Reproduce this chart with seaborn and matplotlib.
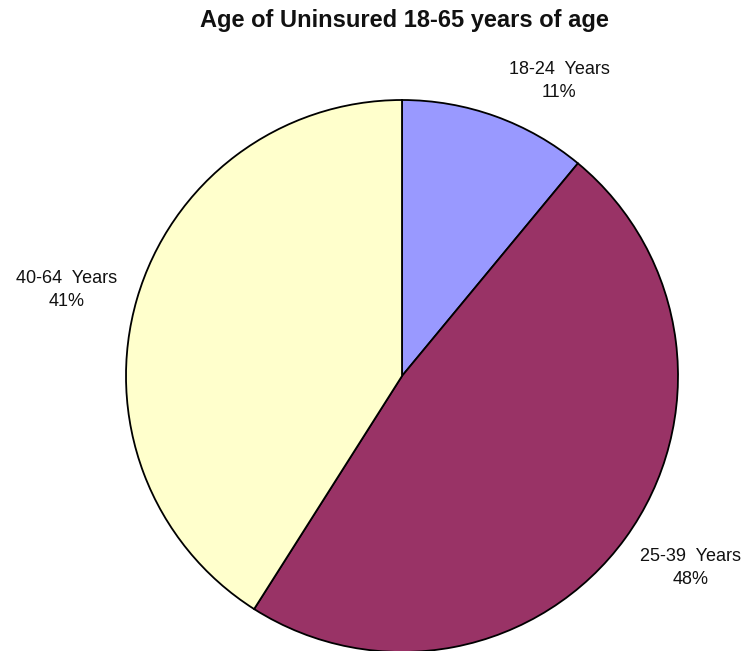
import matplotlib
matplotlib.use("Agg")
import matplotlib.pyplot as plt
import seaborn as sns

categories = ["18-24  Years", "25-39  Years", "40-64  Years"]
shares = [11, 48, 41]
colors = ["#9999FF", "#993366", "#FFFFCC"]
title = "Age of Uninsured 18-65 years of age"

sns.set_theme(style="white")
plt.rcParams["font.family"] = ["Liberation Sans", "DejaVu Sans"]

W, H = 750, 651
fig = plt.figure(figsize=(W / 100, H / 100), dpi=100)
cx, cy, r = 402, 376, 276
ax = fig.add_axes([(cx - r) / W, (H - cy - r) / H, 2 * r / W, 2 * r / H])
ax.pie(shares, colors=colors, startangle=90, counterclock=False,
       wedgeprops=dict(edgecolor="black", linewidth=1.3), radius=1)
ax.set_xlim(-1, 1)
ax.set_ylim(-1, 1)
ax.set_aspect("auto")
ax.axis("off")

label_pos = [(559, 81), (691, 568), (67, 290)]
for name, val, (x, y) in zip(categories, shares, label_pos):
    fig.text(x / W, 1 - y / H, f"{name}\n{val}%", ha="center", va="center",
             fontsize=13, linespacing=1.4, color="#111111")

fig.text(404 / W, 1 - 21 / H, title, ha="center", va="center",
         fontsize=17, fontweight="bold", fontstretch="normal", color="#111111")

fig.savefig("out.png", dpi=100)
